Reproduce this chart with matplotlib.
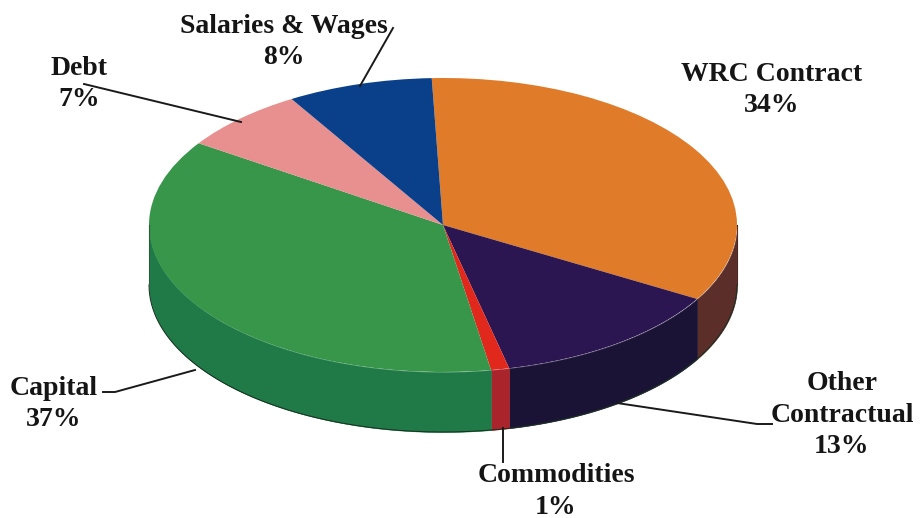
"""Budget breakdown drawn as a tilted pie with a solid rim."""
import matplotlib
matplotlib.use("Agg")
import matplotlib.pyplot as plt
from matplotlib.transforms import Affine2D
import numpy as np

# clockwise from just left of twelve o'clock
categories = ["WRC Contract", "Other\nContractual", "Commodities",
              "Capital", "Debt", "Salaries & Wages"]
shares = [34, 13, 1, 37, 7, 8]

TOP_COLORS = ["#e07b2a", "#2c1652", "#e0281c", "#37964a", "#e88f8f", "#0a3f8a"]
RIM_COLORS = ["#5c2e2a", "#1b1335", "#aa242b", "#1f7a48", "#1f7a48", "#0a2f6a"]

# disc geometry, in pixels
CX, CY = 443, 225
RX, RY = 294, 147
DEPTH = 60
START = 92.2

# label text position, then leader line vertices
LABELS = {
    "WRC Contract": (772, 90, None),
    "Other\nContractual": (842, 415, [(617, 403), (757, 424), (772, 424)]),
    "Commodities": (556, 491.5, [(503, 428), (503, 462)]),
    "Capital": (54, 404, [(103, 392), (115, 392), (195, 370)]),
    "Debt": (79, 84, [(84, 84), (241, 122)]),
    "Salaries & Wages": (284, 42, [(393, 28), (360, 86)]),
}

plt.rcParams["font.family"] = ["Liberation Serif", "DejaVu Serif"]

fig = plt.figure(figsize=(9.21, 5.18), dpi=100)
ax = fig.add_axes([0, 0, 1, 1])

wedges, _ = ax.pie(shares, colors=TOP_COLORS, startangle=START, counterclock=False,
                   wedgeprops=dict(linewidth=0))
ax.set_xlim(0, 921)
ax.set_ylim(518, 0)
ax.axis("off")

# squash the unit pie into the tilted top face
squash = Affine2D().scale(RX, -RY).translate(CX, CY) + ax.transData
for w in wedges:
    w.set_transform(squash)
    w.set_zorder(3)

# rim: only the part of each slice facing the viewer
edges = START - 3.6 * np.cumsum([0] + shares)
for i, color in enumerate(RIM_COLORS):
    hi, lo = edges[i], edges[i + 1]
    theta = np.radians(np.linspace(lo, hi, 120))
    theta = theta[np.sin(theta) < 0]
    if len(theta) < 2:
        continue
    x = CX + RX * np.cos(theta)
    y = CY - RY * np.sin(theta)
    ax.fill_between(x, y, y + DEPTH, color=color, lw=0.4, zorder=2)

# dark outline along the lower and left edge of the rim
theta = np.radians(np.linspace(180, 360, 200))
ax.plot(CX + RX * np.cos(theta), CY - RY * np.sin(theta) + DEPTH,
        color="#16301f", lw=0.7, zorder=4)
ax.plot([CX - RX, CX - RX], [CY, CY + DEPTH], color="#2a5a3a", lw=0.8, zorder=4)
ax.plot([CX + RX, CX + RX], [CY, CY + DEPTH], color="#222222", lw=0.8, zorder=1)

for name, share in zip(categories, shares):
    tx, ty, leader = LABELS[name]
    ax.text(tx, ty, f"{name}\n{share}%", ha="center", va="center", ma="center",
            fontsize=20, fontweight="bold", color="#151515", linespacing=1.33, zorder=6)
    if leader:
        lx, ly = zip(*leader)
        ax.plot(lx, ly, color="#1a1a1a", lw=1.4, zorder=5)

fig.savefig("out.png", dpi=100)
